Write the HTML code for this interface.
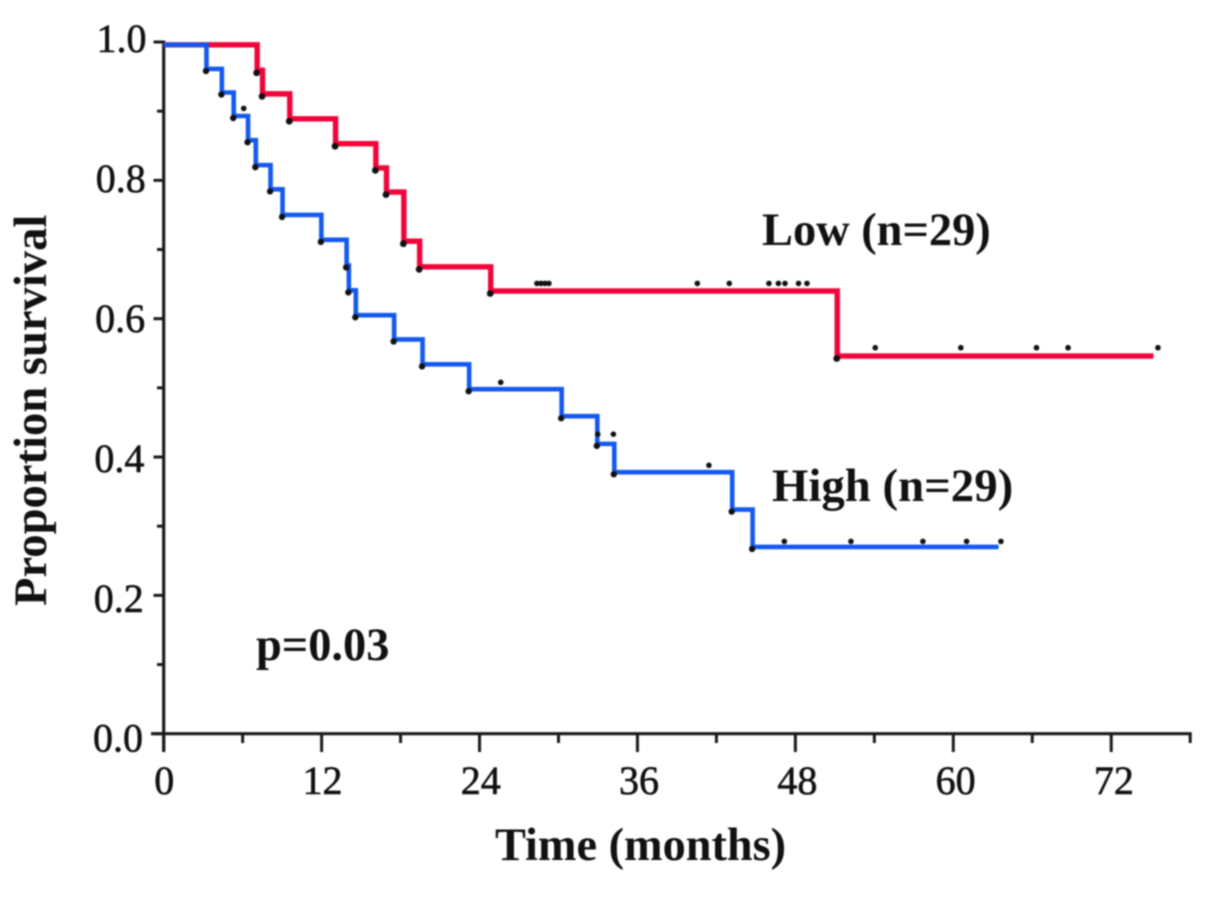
<!DOCTYPE html>
<html lang="en">
<head>
<meta charset="utf-8">
<title>Kaplan-Meier survival chart</title>
<style>
html,body{margin:0;padding:0;background:#fff;width:1205px;height:898px;overflow:hidden}
svg{display:block;filter:blur(0.7px)}
text{font-family:"Liberation Serif",serif;fill:#111}
.tick{font-size:40px;stroke:#111;stroke-width:.6px}
.bold{font-weight:bold}
</style>
</head>
<body>
<svg id="chart" width="1205" height="898" viewBox="0 0 1205 898" xmlns="http://www.w3.org/2000/svg">
  <text class="bold" font-size="46.6" transform="translate(46,606) rotate(-90)">Proportion survival</text>
  <text class="bold" font-size="46.3" x="495" y="860">Time (months)</text>
  <text class="bold" font-size="46.4" x="762" y="245">Low (n=29)</text>
  <text class="bold" font-size="46.8" x="772" y="501">High (n=29)</text>
  <text class="bold" font-size="46.4" x="256" y="660">p=0.03</text>
</svg>
<script>
const xMajorTicks = [0, 12, 24, 36, 48, 60, 72];
const xMinorTicks = [6, 18, 30, 42, 54, 66, 78];
const yMajorTicks = [0.0, 0.2, 0.4, 0.6, 0.8, 1.0];
const yMinorTicks = [0.1, 0.3, 0.5, 0.7, 0.9];

const lowStart = 0.996;
const lowEventMonths = [7.10, 7.51, 9.58, 13.06, 16.12, 16.93, 18.25, 19.45, 24.85, 51.18];
const lowEventSurvival = [0.959, 0.925, 0.889, 0.853, 0.818, 0.783, 0.712, 0.675, 0.640, 0.546];
const lowEndMonth = 75.21;
const lowCensorMonths = [28.36, 28.67, 28.97, 29.27, 40.55, 42.98, 45.99, 46.71, 47.21, 48.24, 48.88, 54.07, 60.57, 66.32, 68.72, 75.55];
const lowCensorSurvival = [0.651, 0.651, 0.651, 0.651, 0.651, 0.651, 0.651, 0.651, 0.651, 0.651, 0.651, 0.558, 0.558, 0.558, 0.558, 0.558];

const highStart = 0.996;
const highEventMonths = [3.25, 4.42, 5.32, 6.41, 7.00, 8.12, 9.03, 11.98, 13.90, 14.07, 14.60, 17.51, 19.67, 23.21, 30.24, 32.95, 34.24, 43.2, 44.75];
const highEventSurvival = [0.961, 0.927, 0.893, 0.858, 0.822, 0.787, 0.750, 0.714, 0.677, 0.641, 0.605, 0.570, 0.534, 0.498, 0.459, 0.419, 0.378, 0.324, 0.270];
const highEndMonth = 63.44;
const highCensorMonths = [6.08, 25.61, 32.98, 34.17, 41.43, 47.16, 52.22, 57.69, 61.01, 63.62];
const highCensorSurvival = [0.904, 0.508, 0.433, 0.433, 0.388, 0.278, 0.278, 0.278, 0.278, 0.278];

const svg = document.getElementById('chart');
const NS = 'http://www.w3.org/2000/svg';
function xScale(m) { return 163.7 + 13.16 * m; }
function yScale(v) { return 733.7 - 691.7 * v; }
function yLabelBaseline(v) { return 751.7 - 699.7 * v; }

function make(tag, attrs) {
  const el = document.createElementNS(NS, tag);
  for (const k in attrs) el.setAttribute(k, attrs[k]);
  svg.appendChild(el);
  return el;
}

function line(x1, y1, x2, y2, w) {
  return make('line', { x1: x1, y1: y1, x2: x2, y2: y2, stroke: '#1a1a1a', 'stroke-width': w });
}

const yAxis = line(xScale(0), yScale(1) - 1.5, xScale(0), 752, 3.2);


const xAxis = line(151, yScale(0), xScale(78) + 1.5, yScale(0), 3.2);



yMajorTicks.forEach(function (v) {
  const t = line(153.5, yScale(v), xScale(0), yScale(v), 3);
  
  
  const label = make('text', { class: 'tick', x: 143 + 3.5 * v, y: yLabelBaseline(v), 'text-anchor': 'end' });
  label.textContent = v.toFixed(1);
  
  
});
yMinorTicks.forEach(function (v) {
  const t = line(157, yScale(v), xScale(0), yScale(v), 3);
  
  
});
xMajorTicks.forEach(function (m) {
  const t = line(xScale(m), yScale(0), xScale(m), 752, 3);
  
  
  const label = make('text', { class: 'tick', x: xScale(m) + 0.5 + m * 0.03, y: 794, 'text-anchor': 'middle' });
  label.textContent = String(m);
  
  
});
xMinorTicks.forEach(function (m) {
  const t = line(xScale(m), yScale(0), xScale(m), 743, 3);
  
  
});

function stepPath(start, months, surv, end) {
  let d = 'M' + xScale(0) + ' ' + yScale(start);
  months.forEach(function (m, i) {
    d += 'H' + xScale(m) + 'V' + yScale(surv[i]);
  });
  return d + 'H' + xScale(end);
}

function dot(x, y, r) {
  return make('circle', { cx: x, cy: y, r: r, fill: '#111' });
}

const lowLine = make('path', { d: stepPath(lowStart, lowEventMonths, lowEventSurvival, lowEndMonth), fill: 'none', stroke: '#f0043a', 'stroke-width': 5.4 });



const highLine = make('path', { d: stepPath(highStart, highEventMonths, highEventSurvival, highEndMonth), fill: 'none', stroke: '#1458f0', 'stroke-width': 4.6 });



lowEventMonths.forEach(function (m, i) {
  const c = dot(xScale(m) - 0.5, yScale(lowEventSurvival[i]) + 2.5, 3.4);
  
  
});
highEventMonths.forEach(function (m, i) {
  const c = dot(xScale(m) - 0.5, yScale(highEventSurvival[i]) + 2, 3.2);
  
  
});
lowCensorMonths.forEach(function (m, i) {
  const c = dot(xScale(m), yScale(lowCensorSurvival[i]), 2.8);
  
  
});
highCensorMonths.forEach(function (m, i) {
  const c = dot(xScale(m), yScale(highCensorSurvival[i]), 2.8);
  
  
});
</script>
</body>
</html>
